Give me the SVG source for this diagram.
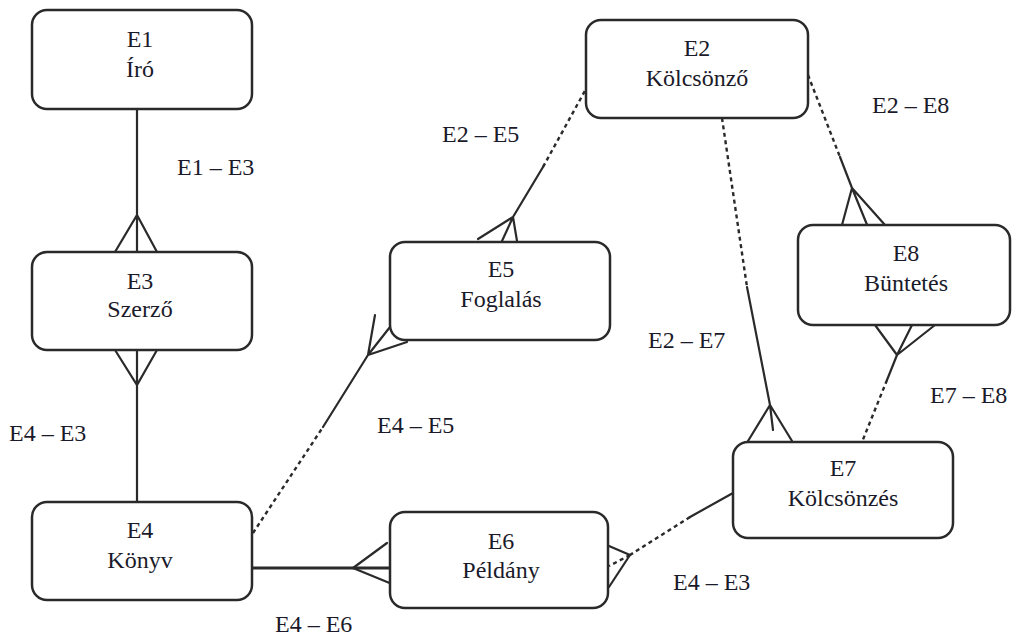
<svg xmlns="http://www.w3.org/2000/svg" width="1013" height="638" viewBox="0 0 1013 638">
<style>
.box{fill:#fff;stroke:#2a2a2a;stroke-width:2.5}
text{font-family:'Liberation Serif','Times New Roman',Times,serif;font-size:24px;fill:#1a1a2a}
.t{text-anchor:middle}
.s{fill:none;stroke:#2a2a2a;stroke-width:2.2;stroke-linecap:round}
.d{fill:none;stroke:#2a2a2a;stroke-width:2.4;stroke-dasharray:4 3.5}
</style>
<rect width="1013" height="638" fill="#fff"/>
<g id="connectors">
<path class="s" d="M137,110 V252 M115,252 L137,215 L157,252 M137,215 V252"/>
<path class="s" d="M137,350 V502 M115,350 L137,385 L157,350"/>
<path class="d" d="M253,533 L323,427"/>
<path class="s" d="M323,427 L368,355 M368,355 L390,327 M368,355 L407,342 M368,355 L375,315"/>
<path class="d" d="M592,78 L543,167"/>
<path class="s" d="M543,167 L513,217 M513,217 L478,239 M513,217 L502,241 M513,217 L517,241"/>
<path class="d" d="M722,118 L747,287"/>
<path class="s" d="M747,287 L770,405 M770,405 L748,441 M770,405 L792,441 M770,405 L773,430"/>
<path class="d" d="M808,75 L840,157"/>
<path class="s" d="M840,157 L852,188 M852,188 L842,225 M852,188 L870,232 M852,188 L885,225"/>
<path class="s" d="M897,355 L887,380 M897,355 L875,325 M897,355 L912,325 M897,355 L935,325"/>
<path class="d" d="M887,380 L862,442"/>
<path class="s" d="M733,493 L690,517"/>
<path class="d" d="M690,517 L630,555 M630,555 L609,566"/>
<path class="s" d="M630,555 L609,546 M630,555 L609,587"/>
<path class="s" style="stroke-width:3" d="M252,568 H390"/>
<path class="s" d="M353,568 L387,543 M353,568 L392,584"/>
</g>
<g id="labels">
<text x="177" y="175">E1 – E3</text>
<text x="9" y="441">E4 – E3</text>
<text x="442" y="142">E2 – E5</text>
<text x="377" y="433">E4 – E5</text>
<text x="872" y="113">E2 – E8</text>
<text x="648" y="348">E2 – E7</text>
<text x="930" y="403">E7 – E8</text>
<text x="673" y="590">E4 – E3</text>
<text x="275" y="632">E4 – E6</text>
</g>
<g id="E1"><rect class="box" x="32" y="10" width="220" height="99" rx="15"/><text class="t" x="140" y="47">E1</text><text class="t" x="140" y="77">Író</text></g>
<g id="E3"><rect class="box" x="32" y="252" width="220" height="98" rx="15"/><text class="t" x="140" y="289">E3</text><text class="t" x="140" y="317">Szerző</text></g>
<g id="E4"><rect class="box" x="32" y="502" width="220" height="98" rx="15"/><text class="t" x="140" y="538">E4</text><text class="t" x="140" y="568">Könyv</text></g>
<g id="E5"><rect class="box" x="390" y="242" width="220" height="98" rx="15"/><text class="t" x="501" y="277">E5</text><text class="t" x="501" y="307">Foglalás</text></g>
<g id="E6"><rect class="box" x="390" y="512" width="218" height="96" rx="15"/><text class="t" x="501" y="549">E6</text><text class="t" x="501" y="578">Példány</text></g>
<g id="E2"><rect class="box" x="586" y="20" width="222" height="98" rx="15"/><text class="t" x="697" y="56">E2</text><text class="t" x="697" y="86">Kölcsönző</text></g>
<g id="E8"><rect class="box" x="798" y="225" width="212" height="100" rx="15"/><text class="t" x="906" y="261">E8</text><text class="t" x="906" y="291">Büntetés</text></g>
<g id="E7"><rect class="box" x="733" y="442" width="220" height="96" rx="15"/><text class="t" x="843" y="476">E7</text><text class="t" x="843" y="506">Kölcsönzés</text></g>
</svg>
